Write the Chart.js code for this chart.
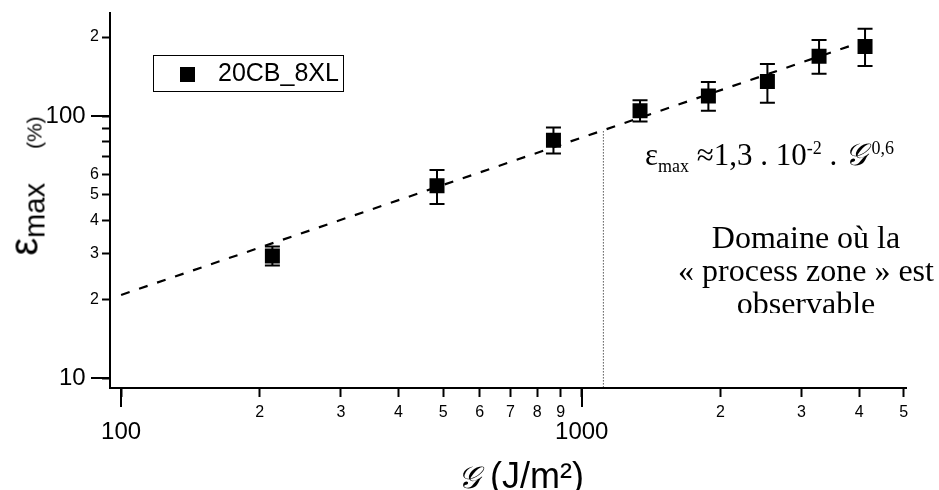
<!DOCTYPE html>
<html>
<head>
<meta charset="utf-8">
<script src="https://cdn.jsdelivr.net/npm/chart.js@4/dist/chart.umd.min.js"></script>
<style>
  body { margin: 0; background: #fff; }
  #wrap { position: relative; width: 939px; height: 490px; }
  .abs { position: absolute; white-space: nowrap; color: #000; }
  #legend { left: 153px; top: 55px; width: 189px; height: 35px; border: 1.5px solid #000; font-family: "Liberation Sans", Arial, sans-serif; font-size: 25px; }
  #legend .mk { position: absolute; left: 26px; top: 11px; width: 15px; height: 15px; background: #000; }
  #legend .lb { position: absolute; left: 64px; top: 2px; }
  #ytitle { left: 24px; top: 186px; transform: translate(-50%, -50%) rotate(-90deg); font-family: "Liberation Sans", Arial, sans-serif; }
  #xtitle { left: 458px; top: 455px; font-family: "Liberation Sans", Arial, sans-serif; font-size: 36px; }
  #eq { left: 645px; top: 137px; font-family: "Liberation Serif", "Times New Roman", serif; font-size: 31px; }
  #note { left: 656px; top: 221px; width: 300px; height: 92px; overflow: hidden; text-align: center; font-family: "Liberation Serif", "Times New Roman", serif; font-size: 32px; line-height: 33px; }
</style>
</head>
<body>
<div id="wrap">
  <canvas id="chart" width="939" height="490"></canvas>
  <div id="legend" class="abs"><div class="mk"></div><div class="lb">20CB_8XL</div></div>
  <div id="ytitle" class="abs"><span style="font-size:40px">ε</span><span style="font-size:29px;position:relative;top:7px">max</span><span style="font-size:21px;position:relative;top:4px;margin-left:34px">(%)</span></div>
  <div id="xtitle" class="abs"><span style="font-family:'DejaVu Serif',serif;font-style:italic;font-size:31px">𝒢</span> (J/m²)</div>
  <div id="eq" class="abs">ε<sub style="font-size:18px">max</sub> ≈1,3 . 10<sup style="font-size:18px">-2</sup> . <i>𝒢</i><sup style="font-size:18px">&nbsp;0,6</sup></div>
  <div id="note" class="abs">Domaine où la<br>« process zone » est<br>observable</div>
</div>
<script>
// measured points (G in J/m², eps max in %)
const gValues = [213, 485, 868, 1338, 1883, 2529, 3274, 4120];
const epsValues = [29.3, 54.2, 80.8, 104.8, 119.3, 135.4, 168.8, 184.1];
const epsLow = [26.9, 46.2, 71.9, 95.3, 104.8, 112.3, 144.8, 155.2];
const epsHigh = [31.8, 62.3, 90.4, 114.9, 134.7, 157.9, 195.0, 215.2];

// power law fit, end points
const fitX = [100, 4000];
const fitY = [20.8, 190];

// dotted boundary of the "process zone" domain
const limitX = [1114, 1114];
const limitY = [9, 87.4];

// axis ticks
const xTickVals = [100, 200, 300, 400, 500, 600, 700, 800, 900, 1000, 2000, 3000, 4000, 5000];
const xTickLabels = ['100', '2', '3', '4', '5', '6', '7', '8', '9', '1000', '2', '3', '4', '5'];
const xMajor = [100, 1000];
const yTickVals = [10, 20, 30, 40, 50, 60, 70, 80, 90, 100, 200];
const yTickLabels = ['10', '2', '3', '4', '5', '6', '', '', '', '100', '2'];
const yMajor = [10, 100];

const FONT = '"Liberation Sans", Arial, sans-serif';

// error bars + the longer major ticks
const extras = {
  id: 'extras',
  beforeDatasetsDraw(chart) {
    const ctx = chart.ctx, xs = chart.scales.x, ys = chart.scales.y;
    ctx.save();
    ctx.strokeStyle = '#000';
    ctx.lineWidth = 2;
    gValues.forEach((g, i) => {
      const px = xs.getPixelForValue(g);
      const lo = ys.getPixelForValue(epsLow[i]);
      const hi = ys.getPixelForValue(epsHigh[i]);
      ctx.beginPath();
      ctx.moveTo(px, lo); ctx.lineTo(px, hi);
      ctx.moveTo(px - 7.5, lo); ctx.lineTo(px + 7.5, lo);
      ctx.moveTo(px - 7.5, hi); ctx.lineTo(px + 7.5, hi);
      ctx.stroke();
    });
    ctx.restore();
  },
  afterDraw(chart) {
    const ctx = chart.ctx, xs = chart.scales.x, ys = chart.scales.y, a = chart.chartArea;
    ctx.save();
    ctx.strokeStyle = '#000';
    ctx.lineWidth = 2;
    ctx.beginPath();
    xMajor.forEach(v => {
      const px = Math.round(xs.getPixelForValue(v));
      ctx.moveTo(px, a.bottom); ctx.lineTo(px, a.bottom + 19);
    });
    yMajor.forEach(v => {
      const py = Math.round(ys.getPixelForValue(v));
      ctx.moveTo(a.left, py); ctx.lineTo(a.left - 19, py);
    });
    ctx.stroke();
    ctx.restore();
  }
};

new Chart(document.getElementById('chart'), {
  type: 'scatter',
  data: {
    datasets: [
      {
        label: 'fit',
        data: fitX.map((x, i) => ({ x: x, y: fitY[i] })),
        showLine: true,
        borderColor: '#000',
        borderWidth: 2.2,
        borderDash: [9, 10],
        pointRadius: 0
      },
      {
        label: 'limit',
        data: limitX.map((x, i) => ({ x: x, y: limitY[i] })),
        showLine: true,
        borderColor: '#000',
        borderWidth: 1,
        borderDash: [1, 2],
        pointRadius: 0
      },
      {
        label: '20CB_8XL',
        data: gValues.map((x, i) => ({ x: x, y: epsValues[i] })),
        pointStyle: 'rect',
        pointRadius: 10.6,
        pointHoverRadius: 10.6,
        backgroundColor: '#000',
        borderColor: '#000',
        borderWidth: 0
      }
    ]
  },
  options: {
    responsive: false,
    animation: false,
    layout: { padding: { top: 8, right: 33, left: 0, bottom: 0 } },
    plugins: {
      legend: { display: false },
      tooltip: { enabled: false }
    },
    scales: {
      x: {
        type: 'logarithmic',
        position: 'bottom',
        min: 94.6,
        max: 5056,
        afterBuildTicks: (scale) => { scale.ticks = xTickVals.map(v => ({ value: v })); },
        afterFit: (scale) => { scale.height = 102; },
        border: { display: true, color: '#000', width: 2 },
        grid: { drawOnChartArea: false, drawTicks: true, tickLength: 9, tickWidth: 2, tickColor: '#000' },
        ticks: {
          autoSkip: false,
          maxRotation: 0,
          padding: 6,
          color: '#000',
          font: (c) => xMajor.includes(xTickVals[c.index])
            ? { family: FONT, size: 24, lineHeight: 0.81 }
            : { family: FONT, size: 16, lineHeight: 1.2 },
          callback: (v, i) => xMajor.includes(xTickVals[i]) ? ['', xTickLabels[i]] : xTickLabels[i]
        }
      },
      y: {
        type: 'logarithmic',
        min: 9.19,
        max: 247.8,
        afterBuildTicks: (scale) => { scale.ticks = yTickVals.map(v => ({ value: v })); },
        afterFit: (scale) => { scale.width = 110; },
        border: { display: true, color: '#000', width: 2 },
        grid: { drawOnChartArea: false, drawTicks: true, tickLength: 8, tickWidth: 2, tickColor: '#000' },
        ticks: {
          autoSkip: false,
          padding: 3,
          color: '#000',
          font: (c) => yMajor.includes(yTickVals[c.index])
            ? { family: FONT, size: 24 }
            : { family: FONT, size: 16 },
          callback: (v, i) => yMajor.includes(yTickVals[i]) ? yTickLabels[i] + '  ' : yTickLabels[i]
        }
      }
    }
  },
  plugins: [extras]
});
</script>
</body>
</html>
